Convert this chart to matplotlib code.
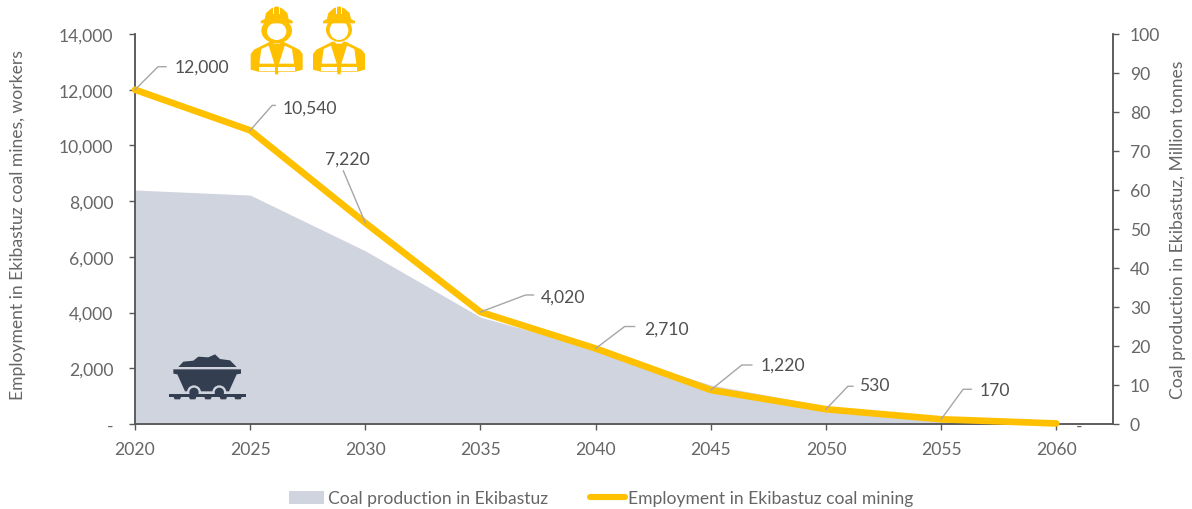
import matplotlib
matplotlib.use("Agg")
import matplotlib.pyplot as plt
from matplotlib.patches import Polygon, Ellipse, Patch
from matplotlib.lines import Line2D

plt.rcParams['font.family'] = ['Lato', 'DejaVu Sans']

years = [2020, 2025, 2030, 2035, 2040, 2045, 2050, 2055, 2060]
employment = [12000, 10540, 7220, 4020, 2710, 1220, 530, 170, 20]
coal = [60, 58.7, 44.4, 27.4, 19.3, 10, 4.6, 1, 0]
emp_labels = ['12,000', '10,540', '7,220', '4,020', '2,710', '1,220', '530', '170']
left_ticks = [0, 2000, 4000, 6000, 8000, 10000, 12000, 14000]
left_labels = ['-', '2,000', '4,000', '6,000', '8,000', '10,000', '12,000', '14,000']
right_ticks = [0, 10, 20, 30, 40, 50, 60, 70, 80, 90, 100]
stray_year = 2061
stray_label = '-'
legend_coal = 'Coal production in Ekibastuz'
legend_emp = 'Employment in Ekibastuz coal mining'
ylabel_left = 'Employment in Ekibastuz coal mines, workers'
ylabel_right = 'Coal production in Ekibastuz, Million tonnes'

W, H = 1192, 510
GREY = '#666666'
AXIS = '#595959'
AMBER = '#FFC000'
AREA = '#D0D4DE'
NAVY = '#333F50'
FS = 12.6

fig = plt.figure(figsize=(W / 100, H / 100), dpi=100, facecolor='white')
L, R, T, B = 135, 1112.5, 35, 425
ax = fig.add_axes([L / W, 1 - B / H, (R - L) / W, (B - T) / H])
ax2 = ax.twinx()
ax.set_zorder(ax2.get_zorder() + 1)
ax.patch.set_visible(False)

ax2.fill_between(years, coal, 0, color=AREA, lw=0)
ax.plot(years, employment, color=AMBER, lw=4.8, solid_capstyle='round',
        solid_joinstyle='miter', clip_on=False, zorder=5)

ax.set_xlim(2020, 2062.44)
ax.set_ylim(0, 14000)
ax2.set_ylim(0, 100)
ax.set_xticks(years)
ax.set_yticks(left_ticks)
ax.set_yticklabels(left_labels)
ax2.set_yticks(right_ticks)
for a in (ax, ax2):
    a.spines['top'].set_visible(False)
    for s in a.spines.values():
        s.set_color(AXIS)
        s.set_linewidth(1.1)
    a.tick_params(colors=AXIS, labelsize=FS, length=4.6, width=1.0, labelcolor=GREY)
ax.tick_params(axis='x', pad=7.5)
ax.tick_params(axis='y', pad=11)
ax2.tick_params(axis='y', pad=8)
fig.text(18 / W, 1 - 225 / H, ylabel_left, rotation=90, color=GREY, fontsize=FS,
         ha='center', va='center')
fig.text(1178.5 / W, 1 - 230 / H, ylabel_right, rotation=90, color=GREY, fontsize=FS,
         ha='center', va='center')

# overlay in pixel coordinates for leaders and icons
ov = fig.add_axes([0, 0, 1, 1], zorder=10)
ov.set_xlim(0, W)
ov.set_ylim(H, 0)
ov.axis('off')

# leader geometry: elbow dx, dy, end dx, text-centre dx, dy (pixels from point)
leaders = [(23, -23, 31, 67, -23), (22, -25, 25, 60, -23), (-22, -52, -22, -18, -64),
           (45, -17, 53, 83, -15), (29, -22, 39, 71, -20), (31, -25, 41, 72, -25),
           (22, -23, 27, 48, -24), (22, -30, 30, 54, -29)]
for yr, val, lab, g in zip(years, employment, emp_labels, leaders):
    px, py = ax.transData.transform((yr, val))
    py = H - py
    ov.plot([px, px + g[0], px + g[2]], [py, py + g[1], py + g[1]],
            color='#A6A6A6', lw=1.0, zorder=6)
    ov.text(px + g[3], py + g[4], lab, color='#505050', fontsize=FS, ha='center', va='center',
            zorder=7)

sx = ax.transData.transform((stray_year, 0))[0]
ov.text(sx, 427, stray_label, color=GREY, fontsize=FS, ha='center', va='center')


def zpoly(pts, ox, oy, color, s=3.0, z=8):
    ov.add_patch(Polygon([(ox + x / s, oy + y / s) for x, y in pts], closed=True,
                         fc=color, ec='none', zorder=z))


def zell(cx, cy, w, h, ox, oy, color, s=3.0, z=8):
    ov.add_patch(Ellipse((ox + cx / s, oy + cy / s), w / s, h / s, fc=color, ec='none', zorder=z))


def worker(c, female):
    ox, oy = 130, 0
    hw = 78
    # body
    zpoly([(c - hw, 212), (c - hw, 165), (c - 68, 152), (c - 40, 138), (c - 20, 128), (c + 20, 128),
           (c + 40, 138), (c + 68, 152), (c + hw, 165), (c + hw, 212), (c + 55, 218), (c + 5, 218),
           (c + 5, 226), (c - 5, 226), (c - 5, 218), (c - 55, 218)], ox, oy, AMBER)
    # vest panels
    zpoly([(c - 52, 194), (c - 46, 150), (c - 24, 140), (c - 7, 194)], ox, oy, 'white', z=9)
    zpoly([(c + 52, 194), (c + 46, 150), (c + 24, 140), (c + 7, 194)], ox, oy, 'white', z=9)
    zpoly([(c - 54, 204), (c - 5, 204), (c - 5, 216), (c - 54, 216)], ox, oy, 'white', z=9)
    zpoly([(c + 54, 204), (c + 5, 204), (c + 5, 216), (c + 54, 216)], ox, oy, 'white', z=9)
    zpoly([(c - 14, 128), (c + 14, 128), (c + 8, 134), (c - 8, 134)], ox, oy, 'white', z=11)
    # head
    if female:
        zell(c, 95, 92, 76, ox, oy, AMBER, z=12)
        zell(c, 97, 58, 52, ox, oy, 'white', z=13)
    else:
        zell(c, 92, 78, 72, ox, oy, AMBER, z=12)
        zell(c, 94, 56, 58, ox, oy, 'white', z=13)
    # helmet
    zpoly([(c - 48, 66), (c - 36, 60), (c - 32, 42), (c - 16, 28), (c, 22), (c + 16, 28),
           (c + 32, 42), (c + 36, 60), (c + 48, 66), (c + 48, 73), (c - 48, 73)],
          ox, oy, AMBER, z=14)
    zpoly([(c - 10, 24), (c - 7, 24), (c - 7, 46), (c - 10, 46)], ox, oy, 'white', z=15)
    zpoly([(c + 7, 24), (c + 10, 24), (c + 10, 46), (c + 7, 46)], ox, oy, 'white', z=15)


worker(440, True)
worker(627, False)

# mine cart
ox, oy = 130, 340
zpoly([(145, 84), (160, 68), (190, 65), (205, 53), (235, 55), (255, 46), (270, 60),
       (300, 64), (320, 84)], ox, oy, NAVY)
zpoly([(130, 91), (333, 91), (333, 104), (320, 106), (297, 157), (165, 157), (142, 106),
       (130, 104)], ox, oy, NAVY)
for cx in (192, 268):
    zell(cx, 160, 42, 42, ox, oy, AREA, z=9)
    zell(cx, 160, 28, 28, ox, oy, NAVY, z=10)
zpoly([(117, 166), (348, 166), (348, 173), (117, 173)], ox, oy, NAVY, z=11)
for sx0 in (130, 176, 222, 268, 312):
    zpoly([(sx0, 172), (sx0 + 24, 172), (sx0 + 20, 181), (sx0 + 4, 181)], ox, oy, NAVY, z=11)

handles = [Patch(fc=AREA, ec='none'),
           Line2D([], [], color=AMBER, lw=4.4, solid_capstyle='round')]
fig.legend(handles, [legend_coal, legend_emp], ncol=2, frameon=False, fontsize=FS,
           labelcolor=GREY, loc='center', bbox_to_anchor=(601.5 / W, 1 - 499.5 / H),
           handlelength=2.0, handletextpad=0.2, columnspacing=2.4, handleheight=0.8,
           borderpad=0, borderaxespad=0)

fig.savefig('out.png', dpi=100, facecolor='white')
